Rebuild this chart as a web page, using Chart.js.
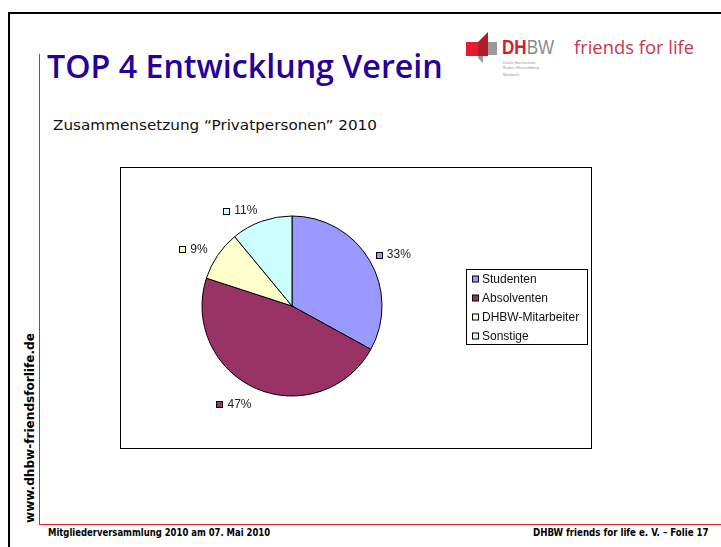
<!DOCTYPE html>
<html lang="de">
<head>
<meta charset="utf-8">
<title>TOP 4 Entwicklung Verein</title>
<script src="https://cdn.jsdelivr.net/npm/chart.js@4.4.0/dist/chart.umd.min.js"></script>
<style>
    html, body { margin: 0; padding: 0; background: #fff; }
    body { width: 721px; height: 547px; position: relative; overflow: hidden; font-family: "DejaVu Sans", sans-serif; }
    .abs { position: absolute; white-space: nowrap; }
    .frame-top { left: 8px; top: 12px; width: 713px; height: 2px; background: #000; }
    .frame-left { left: 8px; top: 12px; width: 2px; height: 535px; background: #000; }
    .red-v { left: 39px; top: 54px; width: 1px; height: 471px; background: #e8202a; }
    .red-h { left: 39px; top: 524px; width: 682px; height: 1px; background: #e8202a; }
    #title { left: 47px; top: 46px; font-size: 33px; color: #26009b; font-family: "Open Sans", sans-serif; font-weight: 600; transform-origin: 0 0; line-height: 40px; }
    #subtitle { left: 53px; top: 116px; font-size: 14px; color: #111; transform-origin: 0 0; line-height: 18px; }
    #chartBox { left: 120px; top: 167px; width: 472px; height: 282px; border: 1px solid #000; box-sizing: border-box; }
    #chartBox canvas { position: absolute; left: 0; top: 0; }
    .foot { top: 527px; font-family: "DejaVu Sans Condensed", sans-serif; font-weight: bold; font-size: 10px; color: #000; line-height: 12px; transform-origin: 0 0; }
    #footLeft { left: 48px; }
    #footRight { left: 533px; }
    #vertical { left: 22px; top: 523px; font-family: "DejaVu Sans Condensed", sans-serif; font-weight: bold; font-size: 13px; line-height: 15px; transform-origin: 0 0; }
    #logoDH { left: 502px; top: 35px; font-family: "Liberation Sans", Arial, sans-serif; font-size: 21px; font-weight: bold; line-height: 24px; transform-origin: 0 0; }
    .tiny { left: 503px; font-size: 4px; color: #999; line-height: 5px; font-family: "Liberation Sans", Arial, sans-serif; }
    #friends { left: 574px; top: 35px; font-family: "Open Sans", sans-serif; font-size: 19px; color: #c9344f; line-height: 24px; transform-origin: 0 0; }
</style>
</head>
<body>
<div class="abs frame-top"></div>
<div class="abs frame-left"></div>
<div class="abs red-v"></div>
<div class="abs red-h"></div>

<div class="abs" id="title">TOP 4 Entwicklung Verein</div>

<svg class="abs" style="left:464px;top:30px" width="36" height="36" viewBox="0 0 36 36">
    <polygon points="2,12 24,12 24,26 2,26" fill="#e01e2d"/>
    <polygon points="14,12 33,12 33,25 19,25 19,33 14,28" fill="#9a9a9a"/>
    <polygon points="14,12 24,2 24,26 14,26" fill="#b51a28"/>
</svg>
<div class="abs" id="logoDH"><span style="color:#d0202e">DH</span><span style="color:#8a8a8a;font-weight:normal">BW</span></div>
<div class="abs tiny" style="top:60px">Duale Hochschule</div>
<div class="abs tiny" style="top:65px">Baden-Württemberg</div>
<div class="abs tiny" style="top:72px">Mosbach</div>
<div class="abs" id="friends">friends for life</div>

<div class="abs" id="subtitle">Zusammensetzung “Privatpersonen” 2010</div>

<div class="abs" id="chartBox">
    <canvas id="pieChart" width="470" height="280"></canvas>
</div>

<div class="abs" id="vertical">www.dhbw-friendsforlife.de</div>
<div class="abs foot" id="footLeft">Mitgliederversammlung 2010 am 07. Mai 2010</div>
<div class="abs foot" id="footRight">DHBW friends for life e. V. – Folie 17</div>

<script>
// ================================
// Data
// ================================
const categories = ['Studenten', 'Absolventen', 'DHBW-Mitarbeiter', 'Sonstige'];
const shares = [33, 47, 9, 11];
const sliceColors = ['#9999ff', '#993366', '#ffffcc', '#ccffff'];

// stretch a text element so that it covers the width seen on the slide
function fitWidth(id, target, rotated) {
    const el = document.getElementById(id);
    const w = el.offsetWidth;
    const s = target / w;
    el.style.transform = (rotated ? 'rotate(-90deg) ' : '') + 'scaleX(' + s + ')';
}

document.addEventListener('DOMContentLoaded', function () {
    fitWidth('title', 396);
    fitWidth('subtitle', 324);
    fitWidth('footLeft', 222);
    fitWidth('footRight', 176);
    fitWidth('vertical', 190, true);
    fitWidth('friends', 120);
    fitWidth('logoDH', 52);

    initializePieChart();
});

// ================================
// Chart
// ================================
const FONT = '12px "Liberation Sans", Arial, sans-serif';

// value labels with a small colour key, placed just outside each slice
const outsideLabels = {
    id: 'outsideLabels',
    afterDatasetsDraw(chart) {
        const ctx = chart.ctx;
        const meta = chart.getDatasetMeta(0);
        ctx.save();
        ctx.font = FONT;
        ctx.textBaseline = 'middle';
        meta.data.forEach((arc, i) => {
            const mid = (arc.startAngle + arc.endAngle) / 2;
            const dx = Math.cos(mid), dy = Math.sin(mid);
            const ax = arc.x + dx * (arc.outerRadius + 12);
            const ay = arc.y + dy * (arc.outerRadius + 12) + Math.max(dy, 0) * 4 + 1;
            const text = shares[i] + '%';
            const tw = ctx.measureText(text).width;
            let sx, tx;
            if (dx > 0) { sx = ax - 4; tx = sx + 11; }
            else { tx = ax - tw; sx = tx - 11; }
            ctx.fillStyle = sliceColors[i];
            ctx.fillRect(Math.round(sx) + 0.5, Math.round(ay - 3.5) + 0.5, 6, 6);
            ctx.strokeStyle = '#000';
            ctx.lineWidth = 1;
            ctx.strokeRect(Math.round(sx) + 0.5, Math.round(ay - 3.5) + 0.5, 6, 6);
            ctx.fillStyle = '#222';
            ctx.textAlign = 'left';
            ctx.fillText(text, tx, ay);
        });
        ctx.restore();
    }
};

// legend in a framed box, right of the pie
const boxedLegend = {
    id: 'boxedLegend',
    afterDraw(chart) {
        const ctx = chart.ctx;
        const left = 345.5, top = 101.5, w = 121, h = 75;
        ctx.save();
        ctx.strokeStyle = '#000';
        ctx.lineWidth = 1;
        ctx.strokeRect(left, top, w, h);
        ctx.font = FONT;
        ctx.textBaseline = 'middle';
        ctx.textAlign = 'left';
        chart.data.labels.forEach((label, i) => {
            const cy = 111.5 + i * 19;
            ctx.fillStyle = chart.data.datasets[0].backgroundColor[i];
            ctx.fillRect(351.5, cy - 3.5, 6, 6);
            ctx.strokeRect(351.5, cy - 3.5, 6, 6);
            ctx.fillStyle = '#111';
            ctx.fillText(label, 361, cy + 0.5);
        });
        ctx.restore();
    }
};

function initializePieChart() {
    const ctx = document.getElementById('pieChart').getContext('2d');

    new Chart(ctx, {
        type: 'pie',
        data: {
            labels: categories,
            datasets: [{
                data: shares,
                backgroundColor: sliceColors,
                borderColor: '#000',
                borderWidth: 1
            }]
        },
        options: {
            responsive: false,
            devicePixelRatio: 1,
            animation: false,
            radius: 90,
            layout: { padding: { left: 0, right: 128, top: 0, bottom: 4 } },
            plugins: {
                legend: { display: false },
                tooltip: { enabled: false }
            }
        },
        plugins: [outsideLabels, boxedLegend]
    });
}
</script>
</body>
</html>
